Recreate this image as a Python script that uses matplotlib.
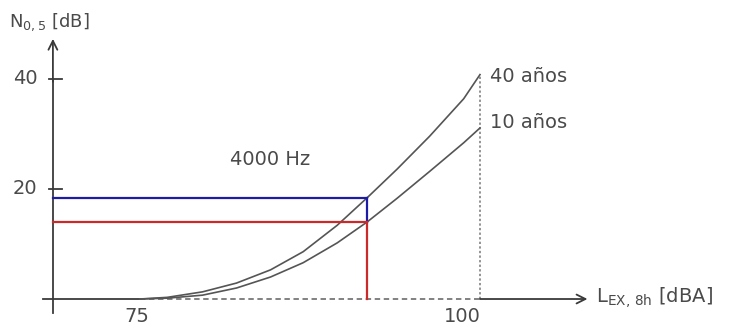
import matplotlib
matplotlib.use("Agg")
import matplotlib.pyplot as plt

# Data
lex = [75, 77, 79.6, 82.1, 84.6, 87, 89.5, 91.7, 93.9, 96.3, 98.8, 100]
n_40 = [0, 0.3, 1.3, 2.9, 5.3, 8.6, 13.4, 18.4, 23.6, 29.6, 36.4, 40.8]
n_10 = [0, 0.15, 0.7, 2.0, 4.0, 6.6, 10.2, 14.0, 18.3, 23.2, 28.4, 31.1]
curve_labels = ["40 años", "10 años"]
y_ticks = [20, 40]
x_ticks = [75, 100]
x_sel = 91.7
y_blue = 18.4
y_red = 14.0

plt.rcParams['font.family'] = ['DejaVu Sans']
plt.rcParams['mathtext.default'] = 'regular'

fig = plt.figure(figsize=(7.44, 3.33), dpi=100)
ax = fig.add_axes([0, 0, 1, 1])
ax.set_xlim(64.71, 119.41)
ax.set_ylim(-6.18, 54.36)
ax.axis('off')

axc = '#3a3a3a'
txc = '#4a4a4a'
x0 = 68.6  # position of the vertical axis

# vertical axis with arrow
ax.plot([x0, x0], [-2.6, 40], color=axc, lw=1.3)
ax.annotate('', xy=(x0, 47.3), xytext=(x0, 39.5),
            arrowprops=dict(arrowstyle='->', color=axc, lw=1.3,
                            mutation_scale=16, shrinkA=0, shrinkB=0))
# horizontal axis
ax.plot([67.9, 75], [0, 0], color=axc, lw=1.3)
ax.plot([75, 100], [0, 0], color='#777777', lw=1.3, ls=(0, (3, 2)))
ax.annotate('', xy=(107.9, 0), xytext=(100, 0),
            arrowprops=dict(arrowstyle='->', color=axc, lw=1.3,
                            mutation_scale=16, shrinkA=0, shrinkB=0))

# ticks on the y axis
for yt in y_ticks:
    ax.plot([x0 - 0.3, x0 + 0.7], [yt, yt], color=axc, lw=1.3)
    ax.text(x0 - 1.15, yt, str(yt), ha='right', va='center',
            fontsize=14, color=txc)

# x tick labels
ax.text(x_ticks[0] - 0.2, -1.4, str(x_ticks[0]), ha='center', va='top', fontsize=14, color=txc)
ax.text(x_ticks[1] - 1.3, -1.4, str(x_ticks[1]), ha='center', va='top', fontsize=14, color=txc)

# dotted vertical at 100
ax.plot([100, 100], [0, n_40[-1]], color='#777777', lw=1.1, ls=(0, (1.5, 1.5)))

# curves
ax.plot(lex, n_40, color='#555555', lw=1.2, solid_joinstyle='round')
ax.plot(lex, n_10, color='#555555', lw=1.2, solid_joinstyle='round')

# selection lines
ax.plot([x0, x_sel], [y_blue, y_blue], color='#1c1ca8', lw=1.6)
ax.plot([x_sel, x_sel], [y_blue, y_red], color='#1c1ca8', lw=1.6)
ax.plot([x0, x_sel], [y_red, y_red], color='#cc2a2a', lw=1.6)
ax.plot([x_sel, x_sel], [y_red, 0], color='#cc2a2a', lw=1.6)

# labels
ax.text(100.7, 40.4, curve_labels[0], ha='left', va='center', fontsize=14, color=txc)
ax.text(100.7, 32.0, curve_labels[1], ha='left', va='center', fontsize=14, color=txc)
ax.text(84.56, 25.3, '4000 Hz', ha='center', va='center', fontsize=14, color=txc)

ax.text(65.4, 50.4, 'N$_{0,5}$ [dB]', ha='left', va='center', fontsize=13, color=txc)
ax.text(108.5, 0.2, 'L$_{EX,\\,8h}$ [dBA]', ha='left', va='center', fontsize=14, color=txc)

fig.savefig('out.png', dpi=100)
